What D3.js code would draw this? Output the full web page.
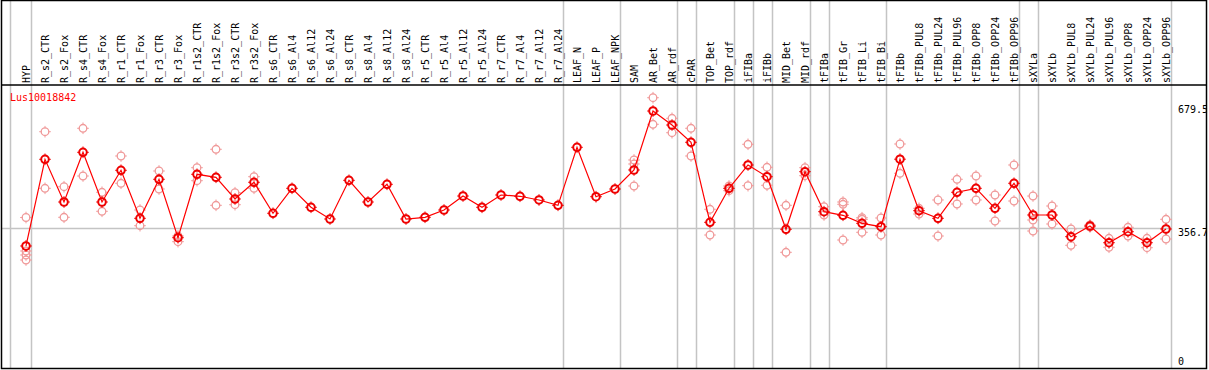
<!DOCTYPE html>
<html>
<head>
<meta charset="utf-8">
<script src="https://cdn.jsdelivr.net/npm/d3@7"></script>
<style>
  html, body { margin: 0; padding: 0; background: #fff; }
  svg { display: block; }
  text { font-family: "DejaVu Sans Mono", "Liberation Mono", monospace; }
</style>
</head>
<body>
<div id="chart"></div>
<script>
const geneId = "Lus10018842";

const categories = [
  "HYP",
  "R_s2_CTR","R_s2_Fox","R_s4_CTR","R_s4_Fox","R_r1_CTR","R_r1_Fox","R_r3_CTR","R_r3_Fox",
  "R_r1s2_CTR","R_r1s2_Fox","R_r3s2_CTR","R_r3s2_Fox",
  "R_s6_CTR","R_s6_Al4","R_s6_Al12","R_s6_Al24",
  "R_s8_CTR","R_s8_Al4","R_s8_Al12","R_s8_Al24",
  "R_r5_CTR","R_r5_Al4","R_r5_Al12","R_r5_Al24",
  "R_r7_CTR","R_r7_Al4","R_r7_Al12","R_r7_Al24",
  "LEAF_N","LEAF_P","LEAF_NPK",
  "SAM","AR_Bet","AR_rdf","cPAR","TOP_Bet","TOP_rdf","iFIBa","iFIBb","MID_Bet","MID_rdf",
  "tFIBa","tFIB_Gr","tFIB_Li","tFIB_Bi",
  "tFIBb","tFIBb_PUL8","tFIBb_PUL24","tFIBb_PUL96","tFIBb_OPP8","tFIBb_OPP24","tFIBb_OPP96",
  "sXYLa","sXYLb","sXYLb_PUL8","sXYLb_PUL24","sXYLb_PUL96","sXYLb_OPP8","sXYLb_OPP24","sXYLb_OPP96"
];

const means = [
  310.4,
  537.8, 425.8, 556.2, 425.8, 509.0, 383.0, 485.4, 332.1,
  498.5, 490.6, 433.7, 477.5,
  396.2, 461.7, 411.9, 381.2,
  482.7, 425.8, 472.2, 381.2,
  385.7, 404.8, 441.5, 411.9,
  444.2, 440.8, 431.1, 417.1,
  569.3, 439.7, 459.9,
  509.8, 664.5, 627.8, 582.4, 372.5, 461.7, 522.9, 492.2, 354.2, 505.3,
  400.4, 390.9, 369.9, 361.0,
  538.1, 403.0, 383.0, 451.3, 461.7, 409.3, 474.9,
  391.7, 391.7, 334.8, 362.8, 319.0, 347.9, 319.0, 355.0
];

const replicates = [
  [385.1, 297.3, 286.8, 273.6],
  [610.2, 461.7], [465.9, 385.7], [619.2, 494.0], [451.3, 401.4],
  [546.5, 474.9], [404.8, 363.6], [507.1, 459.9], [336.6, 321.7],
  [515.8, 481.7], [564.1, 417.1], [450.2, 418.7], [492.2, 461.7],
  [], [], [], [],
  [], [], [], [],
  [], [], [], [],
  [], [], [], [],
  [], [], [],
  [536.0, 525.5, 467.8], [699.4, 629.7], [645.4, 607.6], [619.2, 546.5],
  [406.7, 339.2], [467.8, 455.5], [577.2, 468.6], [516.8, 469.6],
  [417.1, 293.8], [515.8, 494.8],
  [413.5, 391.7], [425.8, 419.8, 326.1], [384.6, 380.4, 346.3], [383.8, 339.2],
  [578.0, 501.1], [409.3, 394.3], [431.1, 336.6], [485.4, 420.6],
  [494.0, 431.1], [444.2, 376.0], [522.9, 428.4],
  [441.5, 378.6, 349.7], [415.3, 368.1], [355.0, 312.2], [365.5, 360.1],
  [330.6, 307.0], [359.4, 336.6], [330.6, 305.9], [380.4, 328.7]
];

// group boundaries: index of the last category in each group
const groupEnds = [0, 28, 31, 34, 35, 37, 38, 39, 41, 42, 45, 52, 53, 60];
const yTickValues = [679.5, 356.7, 0];
const refLineValue = 356.7;

const W = 1209, H = 370;
const svg = d3.select("#chart").append("svg")
  .attr("width", W).attr("height", H);

const x = d3.scaleLinear().domain([0, categories.length - 1]).range([26, 1166]);
const y = d3.scaleLinear().domain([0, 679.5]).range([364.3, 105.3]);

const headerY = 85;
const frameL = 1.5, frameR = 1206.5, frameT = 0.5, frameB = 368.5;

svg.append("defs").append("clipPath").attr("id", "frameclip")
  .append("rect").attr("x", frameL).attr("y", frameT)
  .attr("width", frameR - frameL).attr("height", frameB - frameT);

const g = svg.append("g").attr("clip-path", "url(#frameclip)");

// vertical group separators
const sepX = [x(-0.85)].concat(groupEnds.map(i => x(i + 0.25)));
g.selectAll("line.sep").data(sepX).enter().append("line")
  .attr("class", "sep")
  .attr("x1", d => Math.round(d) + 0.5).attr("x2", d => Math.round(d) + 0.5)
  .attr("y1", 0).attr("y2", H)
  .attr("stroke", "#c4c4c4").attr("stroke-width", 1.5);

// reference horizontal line
g.append("line")
  .attr("x1", frameL).attr("x2", 1172)
  .attr("y1", Math.round(y(refLineValue)) + 0.5).attr("y2", Math.round(y(refLineValue)) + 0.5)
  .attr("stroke", "#c4c4c4").attr("stroke-width", 1.5);

// header separator
g.append("line")
  .attr("x1", 0).attr("x2", W)
  .attr("y1", headerY).attr("y2", headerY)
  .attr("stroke", "#000").attr("stroke-width", 1.5);

// category labels (rotated)
g.selectAll("text.cat").data(categories).enter().append("text")
  .attr("class", "cat")
  .attr("transform", (d, i) => `translate(${x(i) + 4},83) rotate(-90)`)
  .attr("text-anchor", "start")
  .attr("font-size", "10px")
  .attr("fill", "#000")
  .text(d => d);

// gene id
g.append("text")
  .attr("x", 10).attr("y", 100.5)
  .attr("font-size", "10px")
  .attr("fill", "#ff0000")
  .text(geneId);

// y tick labels
g.selectAll("text.ytick").data(yTickValues).enter().append("text")
  .attr("class", "ytick")
  .attr("x", 1178)
  .attr("y", d => d === 0 ? 365 : y(d) + 7.5)
  .attr("font-size", "10px")
  .attr("fill", "#000")
  .text(d => d === 0 ? "0" : d3.format(".1f")(d));

// marker with small ticks
function marker(sel, color, sw) {
  const r = 3.8;
  sel.append("circle").attr("r", r).attr("fill", "none")
    .attr("stroke", color).attr("stroke-width", sw);
  sel.append("path")
    .attr("d", `M0,${-r-2}V${-r+0.5}M0,${r-0.5}V${r+2}M${-r-2},0H${-r+0.5}M${r-0.5},0H${r+2}`)
    .attr("stroke", color).attr("stroke-width", 1);
}

// replicate points
const repData = [];
replicates.forEach((arr, i) => arr.forEach(v => repData.push({ i, v })));
g.selectAll("g.rep").data(repData).enter().append("g")
  .attr("class", "rep")
  .attr("transform", d => `translate(${x(d.i)},${y(d.v)})`)
  .call(marker, "#f09a9a", 1.3);

// mean line
const line = d3.line().x((d, i) => x(i)).y(d => y(d));
g.append("path").datum(means)
  .attr("d", line)
  .attr("fill", "none")
  .attr("stroke", "#ff0000")
  .attr("stroke-width", 1.2);

// mean points
g.selectAll("g.mean").data(means).enter().append("g")
  .attr("class", "mean")
  .attr("transform", (d, i) => `translate(${x(i)},${y(d)})`)
  .call(marker, "#ee0000", 2);

// frame
svg.append("rect")
  .attr("x", frameL).attr("y", frameT)
  .attr("width", frameR - frameL).attr("height", frameB - frameT)
  .attr("fill", "none").attr("stroke", "#000").attr("stroke-width", 1.5);
</script>
</body>
</html>
